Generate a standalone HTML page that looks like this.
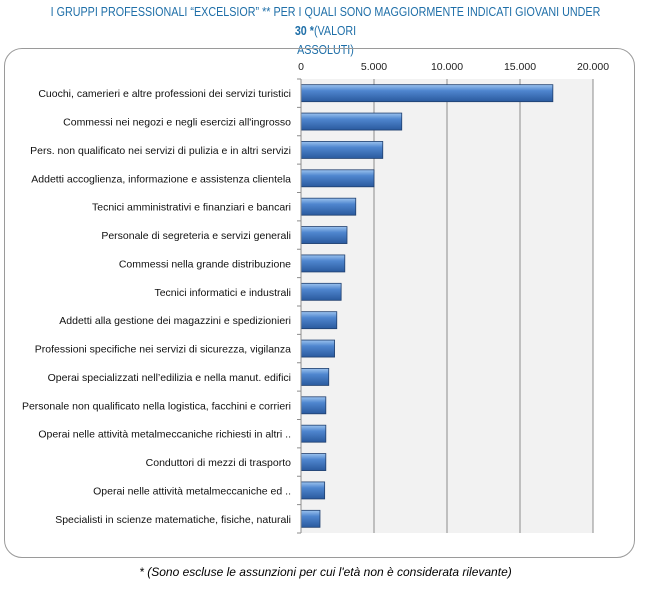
<!DOCTYPE html>
<html><head><meta charset="utf-8"><style>
body{margin:0;width:651px;height:590px;background:#fff;font-family:"Liberation Sans",sans-serif;position:relative;overflow:hidden}
.title{position:absolute;left:0;width:651px;text-align:center;color:#1f6fa8;font-size:12.5px;top:3px;line-height:19px;transform:scaleX(0.86);transform-origin:center}
.frame{position:absolute;left:4px;top:48px;width:629px;height:508px;border:1px solid #9a9a9a;border-radius:18px}
.foot{position:absolute;left:0;width:651px;text-align:center;top:565px;font-size:12px;font-style:italic;color:#000}
</style></head><body>
<div class="title">I GRUPPI PROFESSIONALI “EXCELSIOR” ** PER I QUALI SONO MAGGIORMENTE INDICATI GIOVANI UNDER <b>30 *</b>(VALORI<br>ASSOLUTI)</div>
<div class="frame"></div>
<svg id="c" width="651" height="590" style="position:absolute;left:0;top:0">
<defs><linearGradient id="g" x1="0" y1="0" x2="0" y2="1">
<stop offset="0" stop-color="#9cc3ef"/><stop offset="0.35" stop-color="#4f86cf"/><stop offset="1" stop-color="#2a5a9e"/></linearGradient></defs>
</svg>
<div class="foot">* (Sono escluse le assunzioni per cui l'età non è considerata rilevante)</div>
<script>
const categories=["Cuochi, camerieri e altre professioni dei servizi turistici","Commessi nei negozi e negli esercizi all'ingrosso","Pers. non qualificato nei servizi di pulizia e in altri servizi","Addetti accoglienza, informazione e assistenza clientela","Tecnici amministrativi e finanziari e bancari","Personale di segreteria e servizi generali","Commessi nella grande distribuzione","Tecnici informatici e industrali","Addetti alla gestione dei magazzini e spedizionieri","Professioni specifiche nei servizi di sicurezza, vigilanza","Operai specializzati nell’edilizia e nella manut. edifici","Personale non qualificato nella logistica, facchini e corrieri","Operai nelle attività metalmeccaniche richiesti in altri ..","Conduttori  di mezzi di trasporto","Operai nelle attività metalmeccaniche ed ..","Specialisti in scienze matematiche, fisiche, naturali"];
const values=[17250,6900,5600,5000,3750,3150,3000,2750,2450,2300,1900,1700,1700,1700,1620,1300];
const ticks=[0,5000,10000,15000,20000];
const tickLabels=["0","5.000","10.000","15.000","20.000"];
const svg=document.getElementById('c');const NS='http://www.w3.org/2000/svg';
const X0=301,X1=593,Y0=79,Y1=533,MAX=20000;
const x=v=>X0+(v/MAX)*(X1-X0);
const rowH=(Y1-Y0)/categories.length;
function mk(t,a){const e=document.createElementNS(NS,t);for(const k in a)e.setAttribute(k,a[k]);svg.appendChild(e);return e;}
let bg=mk('rect',{x:X0,y:Y0,width:X1-X0,height:Y1-Y0,fill:'#f2f2f2'});


ticks.forEach((t,i)=>{
 let l=mk('line',{x1:x(t),x2:x(t),y1:Y0,y2:Y1,stroke:'#8c8c8c','stroke-width':1});
 
 
 let tx=mk('text',{x:x(t),y:70,'text-anchor':'middle','font-size':10.5,fill:'#222'});tx.textContent=tickLabels[i];
 
 
});
for(let i=0;i<=categories.length;i++){let tk=mk('line',{x1:X0-4,x2:X0,y1:Y0+i*rowH,y2:Y0+i*rowH,stroke:'#8c8c8c'});
 
 }
categories.forEach((c,i)=>{
 const cy=Y0+rowH*(i+0.5);
 let r=mk('rect',{x:X0,y:cy-8.5,width:x(values[i])-X0,height:17,fill:'url(#g)',stroke:'#1f3f6e','stroke-width':0.8});
 
 
 let t=mk('text',{x:291,y:cy+4,'text-anchor':'end','font-size':10.5,fill:'#111'});t.textContent=c;
 
 
});
let ax=mk('line',{x1:X0,x2:X0,y1:Y0,y2:Y1,stroke:'#8c8c8c'});


</script>
</body></html>
